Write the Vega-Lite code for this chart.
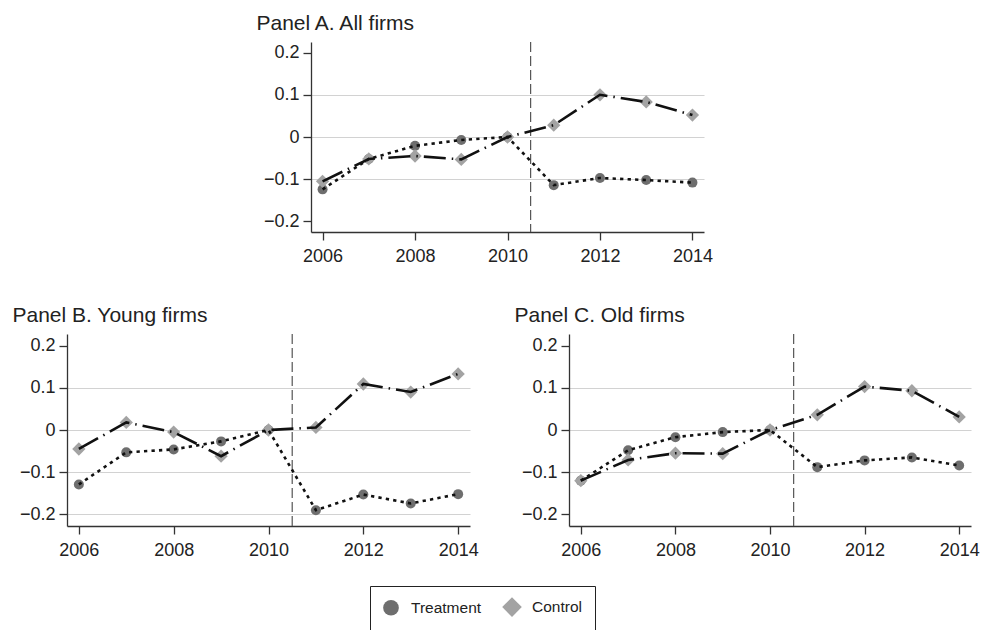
{
  "$schema": "https://vega.github.io/schema/vega-lite/v6.json",
  "padding": {"left": 12, "top": 13, "right": 0, "bottom": 0},
  "background": "white",
  "spacing": 40,
  "config": {
    "font": "Liberation Sans",
    "view": {"stroke": null},
    "axis": {
      "labelFont": "Liberation Sans", "labelFontSize": 18, "labelColor": "#222",
      "domainColor": "#333", "domainWidth": 1.3, "tickColor": "#333", "tickWidth": 1.3,
      "tickSize": 8, "labelPadding": 4, "title": null, "gridColor": "#d2d2d2", "gridWidth": 1.2
    },
    "axisX": {"labelPadding": 7},
    "title": {"font": "Liberation Sans", "fontSize": 21, "fontWeight": "normal", "color": "#222", "anchor": "start", "frame": "bounds", "dx": -7, "offset": 7}
  },
  "datasets": {
    "d": [
      {"panel": "A", "series": "Treatment", "year": 2006, "value": -0.124},
      {"panel": "A", "series": "Treatment", "year": 2007, "value": -0.052},
      {"panel": "A", "series": "Treatment", "year": 2008, "value": -0.021},
      {"panel": "A", "series": "Treatment", "year": 2009, "value": -0.007},
      {"panel": "A", "series": "Treatment", "year": 2010, "value": 0},
      {"panel": "A", "series": "Treatment", "year": 2011, "value": -0.114},
      {"panel": "A", "series": "Treatment", "year": 2012, "value": -0.097},
      {"panel": "A", "series": "Treatment", "year": 2013, "value": -0.102},
      {"panel": "A", "series": "Treatment", "year": 2014, "value": -0.108},
      {"panel": "B", "series": "Treatment", "year": 2006, "value": -0.129},
      {"panel": "B", "series": "Treatment", "year": 2007, "value": -0.053},
      {"panel": "B", "series": "Treatment", "year": 2008, "value": -0.046},
      {"panel": "B", "series": "Treatment", "year": 2009, "value": -0.027},
      {"panel": "B", "series": "Treatment", "year": 2010, "value": 0},
      {"panel": "B", "series": "Treatment", "year": 2011, "value": -0.19},
      {"panel": "B", "series": "Treatment", "year": 2012, "value": -0.153},
      {"panel": "B", "series": "Treatment", "year": 2013, "value": -0.174},
      {"panel": "B", "series": "Treatment", "year": 2014, "value": -0.152},
      {"panel": "C", "series": "Treatment", "year": 2006, "value": -0.12},
      {"panel": "C", "series": "Treatment", "year": 2007, "value": -0.048},
      {"panel": "C", "series": "Treatment", "year": 2008, "value": -0.017},
      {"panel": "C", "series": "Treatment", "year": 2009, "value": -0.005},
      {"panel": "C", "series": "Treatment", "year": 2010, "value": 0},
      {"panel": "C", "series": "Treatment", "year": 2011, "value": -0.088},
      {"panel": "C", "series": "Treatment", "year": 2012, "value": -0.072},
      {"panel": "C", "series": "Treatment", "year": 2013, "value": -0.065},
      {"panel": "C", "series": "Treatment", "year": 2014, "value": -0.084},
      {"panel": "A", "series": "Control", "year": 2006, "value": -0.105},
      {"panel": "A", "series": "Control", "year": 2007, "value": -0.052},
      {"panel": "A", "series": "Control", "year": 2008, "value": -0.045},
      {"panel": "A", "series": "Control", "year": 2009, "value": -0.053},
      {"panel": "A", "series": "Control", "year": 2010, "value": 0},
      {"panel": "A", "series": "Control", "year": 2011, "value": 0.028},
      {"panel": "A", "series": "Control", "year": 2012, "value": 0.1},
      {"panel": "A", "series": "Control", "year": 2013, "value": 0.083},
      {"panel": "A", "series": "Control", "year": 2014, "value": 0.052},
      {"panel": "B", "series": "Control", "year": 2006, "value": -0.045},
      {"panel": "B", "series": "Control", "year": 2007, "value": 0.018},
      {"panel": "B", "series": "Control", "year": 2008, "value": -0.005},
      {"panel": "B", "series": "Control", "year": 2009, "value": -0.062},
      {"panel": "B", "series": "Control", "year": 2010, "value": 0},
      {"panel": "B", "series": "Control", "year": 2011, "value": 0.006},
      {"panel": "B", "series": "Control", "year": 2012, "value": 0.109},
      {"panel": "B", "series": "Control", "year": 2013, "value": 0.09},
      {"panel": "B", "series": "Control", "year": 2014, "value": 0.133},
      {"panel": "C", "series": "Control", "year": 2006, "value": -0.12},
      {"panel": "C", "series": "Control", "year": 2007, "value": -0.071},
      {"panel": "C", "series": "Control", "year": 2008, "value": -0.055},
      {"panel": "C", "series": "Control", "year": 2009, "value": -0.056},
      {"panel": "C", "series": "Control", "year": 2010, "value": 0},
      {"panel": "C", "series": "Control", "year": 2011, "value": 0.036},
      {"panel": "C", "series": "Control", "year": 2012, "value": 0.103},
      {"panel": "C", "series": "Control", "year": 2013, "value": 0.093},
      {"panel": "C", "series": "Control", "year": 2014, "value": 0.031}
    ],
    "cut": [{"year": 2010.5}]
  },
  "vconcat": [
    {
      "spacing": 0,
      "hconcat": [
        {"width": 189, "height": 10, "data": {"values": []}, "mark": {"type": "point", "opacity": 0}},
        {
          "width": 393, "height": 190,
          "title": {"text": "Panel A. All firms"},
          "layer": [
            {"data": {"name": "cut"}, "mark": {"type": "rule", "color": "#555", "strokeDash": [10, 4], "strokeWidth": 1.2},
             "encoding": {"x": {"field": "year", "type": "quantitative"}}},
            {"data": {"name": "d"}, "transform": [{"filter": "datum.panel == 'A' && datum.series == 'Treatment'"}],
             "mark": {"type": "point", "filled": true, "opacity": 1, "size": 100},
             "encoding": {
               "x": {"field": "year", "type": "quantitative", "scale": {"domain": [2005.75, 2014.25], "nice": false, "zero": false}, "axis": {"values": [2006, 2008, 2010, 2012, 2014], "format": "d", "grid": false, "labelFlush": false}},
               "y": {"field": "value", "type": "quantitative", "scale": {"domain": [-0.225, 0.225], "nice": false, "zero": false}, "axis": {"values": [-0.2, -0.1, 0, 0.1, 0.2], "format": ".1~f", "grid": true, "gridOpacity": {"condition": {"test": "abs(datum.value) > 0.15", "value": 0}, "value": 1}}},
               "color": {"field": "series", "type": "nominal", "scale": {"domain": ["Treatment", "Control"], "range": ["#6e6e6e", "#a3a3a3"]}},
               "shape": {"field": "series", "type": "nominal", "scale": {"domain": ["Treatment", "Control"], "range": ["circle", "M-1.25,0L0,-1.25L1.25,0L0,1.25Z"]}}
             }},
            {"data": {"name": "d"}, "transform": [{"filter": "datum.panel == 'A' && datum.series == 'Control'"}],
             "mark": {"type": "point", "filled": true, "opacity": 1, "size": 113},
             "encoding": {
               "x": {"field": "year", "type": "quantitative"},
               "y": {"field": "value", "type": "quantitative"},
               "color": {"field": "series", "type": "nominal"},
               "shape": {"field": "series", "type": "nominal"}
             }},
            {"data": {"name": "d"}, "transform": [{"filter": "datum.panel == 'A'"}],
             "mark": {"type": "line", "color": "#111", "strokeWidth": 2.6},
             "encoding": {
               "x": {"field": "year", "type": "quantitative"},
               "y": {"field": "value", "type": "quantitative"},
               "strokeDash": {"field": "series", "type": "nominal", "scale": {"domain": ["Treatment", "Control"], "range": [[3.3, 4.2], [22, 6, 1.5, 6]]}, "legend": null}
             }}
          ]
        }
      ]
    },
    {
      "spacing": 35,
      "hconcat": [
        {
          "width": 403, "height": 192,
          "title": {"text": "Panel B. Young firms"},
          "layer": [
            {"data": {"name": "cut"}, "mark": {"type": "rule", "color": "#555", "strokeDash": [10, 4], "strokeWidth": 1.2},
             "encoding": {"x": {"field": "year", "type": "quantitative"}}},
            {"data": {"name": "d"}, "transform": [{"filter": "datum.panel == 'B' && datum.series == 'Treatment'"}],
             "mark": {"type": "point", "filled": true, "opacity": 1, "size": 100},
             "encoding": {
               "x": {"field": "year", "type": "quantitative", "scale": {"domain": [2005.75, 2014.25], "nice": false, "zero": false}, "axis": {"values": [2006, 2008, 2010, 2012, 2014], "format": "d", "grid": false, "labelFlush": false}},
               "y": {"field": "value", "type": "quantitative", "scale": {"domain": [-0.2275, 0.2275], "nice": false, "zero": false}, "axis": {"values": [-0.2, -0.1, 0, 0.1, 0.2], "format": ".1~f", "grid": true, "gridOpacity": {"condition": {"test": "datum.value > 0.15", "value": 0}, "value": 1}}},
               "color": {"field": "series", "type": "nominal", "scale": {"domain": ["Treatment", "Control"], "range": ["#6e6e6e", "#a3a3a3"]}},
               "shape": {"field": "series", "type": "nominal", "scale": {"domain": ["Treatment", "Control"], "range": ["circle", "M-1.25,0L0,-1.25L1.25,0L0,1.25Z"]}}
             }},
            {"data": {"name": "d"}, "transform": [{"filter": "datum.panel == 'B' && datum.series == 'Control'"}],
             "mark": {"type": "point", "filled": true, "opacity": 1, "size": 113},
             "encoding": {
               "x": {"field": "year", "type": "quantitative"},
               "y": {"field": "value", "type": "quantitative"},
               "color": {"field": "series", "type": "nominal"},
               "shape": {"field": "series", "type": "nominal"}
             }},
            {"data": {"name": "d"}, "transform": [{"filter": "datum.panel == 'B'"}],
             "mark": {"type": "line", "color": "#111", "strokeWidth": 2.6},
             "encoding": {
               "x": {"field": "year", "type": "quantitative"},
               "y": {"field": "value", "type": "quantitative"},
               "strokeDash": {"field": "series", "type": "nominal", "scale": {"domain": ["Treatment", "Control"], "range": [[3.3, 4.2], [22, 6, 1.5, 6]]}, "legend": null}
             }}
          ]
        },
        {
          "width": 402, "height": 192,
          "title": {"text": "Panel C. Old firms"},
          "layer": [
            {"data": {"name": "cut"}, "mark": {"type": "rule", "color": "#555", "strokeDash": [10, 4], "strokeWidth": 1.2},
             "encoding": {"x": {"field": "year", "type": "quantitative"}}},
            {"data": {"name": "d"}, "transform": [{"filter": "datum.panel == 'C' && datum.series == 'Treatment'"}],
             "mark": {"type": "point", "filled": true, "opacity": 1, "size": 100},
             "encoding": {
               "x": {"field": "year", "type": "quantitative", "scale": {"domain": [2005.75, 2014.25], "nice": false, "zero": false}, "axis": {"values": [2006, 2008, 2010, 2012, 2014], "format": "d", "grid": false, "labelFlush": false}},
               "y": {"field": "value", "type": "quantitative", "scale": {"domain": [-0.2275, 0.2275], "nice": false, "zero": false}, "axis": {"values": [-0.2, -0.1, 0, 0.1, 0.2], "format": ".1~f", "grid": true, "gridOpacity": {"condition": {"test": "abs(datum.value) > 0.15", "value": 0}, "value": 1}}},
               "color": {"field": "series", "type": "nominal", "scale": {"domain": ["Treatment", "Control"], "range": ["#6e6e6e", "#a3a3a3"]},
                 "legend": {"orient": "none", "legendX": 303, "legendY": 544, "direction": "horizontal", "title": null, "strokeColor": "#222", "padding": 13, "labelFont": "Liberation Sans", "labelFontSize": 15.5, "labelColor": "#222", "symbolSize": 246, "columnPadding": 20, "labelOffset": 12, "symbolStrokeWidth": 0}},
               "shape": {"field": "series", "type": "nominal", "scale": {"domain": ["Treatment", "Control"], "range": ["circle", "M-1.25,0L0,-1.25L1.25,0L0,1.25Z"]}}
             }},
            {"data": {"name": "d"}, "transform": [{"filter": "datum.panel == 'C' && datum.series == 'Control'"}],
             "mark": {"type": "point", "filled": true, "opacity": 1, "size": 113},
             "encoding": {
               "x": {"field": "year", "type": "quantitative"},
               "y": {"field": "value", "type": "quantitative"},
               "color": {"field": "series", "type": "nominal"},
               "shape": {"field": "series", "type": "nominal"}
             }},
            {"data": {"name": "d"}, "transform": [{"filter": "datum.panel == 'C'"}],
             "mark": {"type": "line", "color": "#111", "strokeWidth": 2.6},
             "encoding": {
               "x": {"field": "year", "type": "quantitative"},
               "y": {"field": "value", "type": "quantitative"},
               "strokeDash": {"field": "series", "type": "nominal", "scale": {"domain": ["Treatment", "Control"], "range": [[3.3, 4.2], [22, 6, 1.5, 6]]}, "legend": null}
             }}
          ]
        }
      ]
    }
  ]
}
